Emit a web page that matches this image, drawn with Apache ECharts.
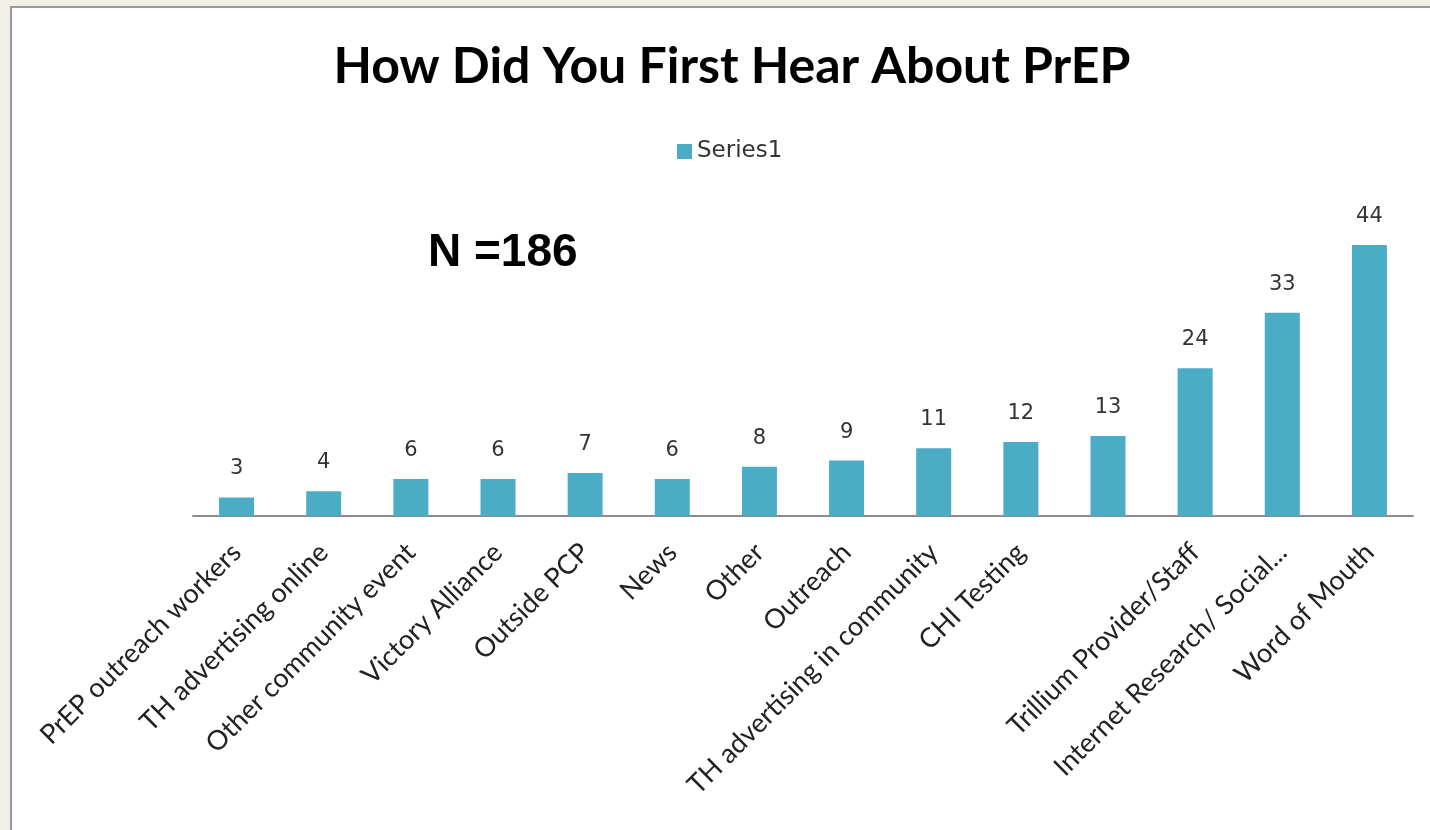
<!DOCTYPE html>
<html>
<head>
<meta charset="utf-8">
<script src="https://cdn.jsdelivr.net/npm/echarts@6/dist/echarts.min.js"></script>
<style>
    html, body { margin: 0; padding: 0; background: #f1efe8; }
    #panel {
        position: absolute; left: 10px; top: 6px; width: 1420px; height: 824px;
        background: #fff; border-left: 2px solid #9a9a9a; border-top: 2px solid #9a9a9a;
    }
    #chart { position: absolute; left: -12px; top: -8px; width: 1430px; height: 830px; }
</style>
</head>
<body>
<div id="panel"><div id="chart"></div></div>
<script>
// categories and counts
// (the bar with 13 has no axis label in the original)
var categories = [
    'PrEP outreach workers', 'TH advertising online', 'Other community event',
    'Victory Alliance', 'Outside PCP', 'News', 'Other', 'Outreach',
    'TH advertising in community', 'CHI Testing', '',
    'Trillium Provider/Staff', 'Internet Research/ Social...', 'Word of Mouth'
];
var values = [3, 4, 6, 6, 7, 6, 8, 9, 11, 12, 13, 24, 33, 44];

var myChart = echarts.init(document.getElementById('chart'));
var option = {
    animation: false,
    title: {
        text: 'How Did You First Hear About PrEP',
        left: 727,
        textAlign: 'center',
        top: 37,
        textStyle: {
            fontFamily: 'Lato', fontWeight: 'bold', fontSize: 50, color: '#000'
        }
    },
    legend: {
        data: ['Series1'],
        top: 140,
        left: 677,
        padding: 0,
        itemWidth: 15,
        itemHeight: 15,
        itemGap: 5,
        icon: 'rect',
        textStyle: { fontFamily: 'DejaVu Sans', fontSize: 23, color: '#333' }
    },
    graphic: [{
        type: 'text',
        left: 428,
        top: 230,
        style: {
            text: 'N =186',
            font: 'bold 46px "Liberation Sans", Arial, sans-serif',
            fill: '#000'
        }
    }],
    grid: {
        left: 193,
        right: 17,
        top: 208,
        bottom: 314,
        containLabel: false
    },
    xAxis: [{
        type: 'category',
        data: categories,
        boundaryGap: true,
        axisTick: { show: false },
        axisLine: { show: true, lineStyle: { color: '#8c8c8c', width: 2 } },
        axisLabel: {
            interval: 0,
            rotate: 45,
            margin: 32,
            fontFamily: 'Lato',
            fontSize: 27,
            color: '#222'
        }
    }],
    yAxis: [{
        type: 'value',
        min: 0,
        max: 50,
        show: false,
        splitLine: { show: false }
    }],
    series: [{
        name: 'Series1',
        type: 'bar',
        data: values,
        barWidth: 35,
        itemStyle: { color: '#4bacc6' },
        label: {
            show: true,
            position: 'top',
            distance: 18,
            fontFamily: 'DejaVu Sans',
            fontSize: 21,
            color: '#333'
        }
    }]
};
myChart.setOption(option);
</script>
</body>
</html>
